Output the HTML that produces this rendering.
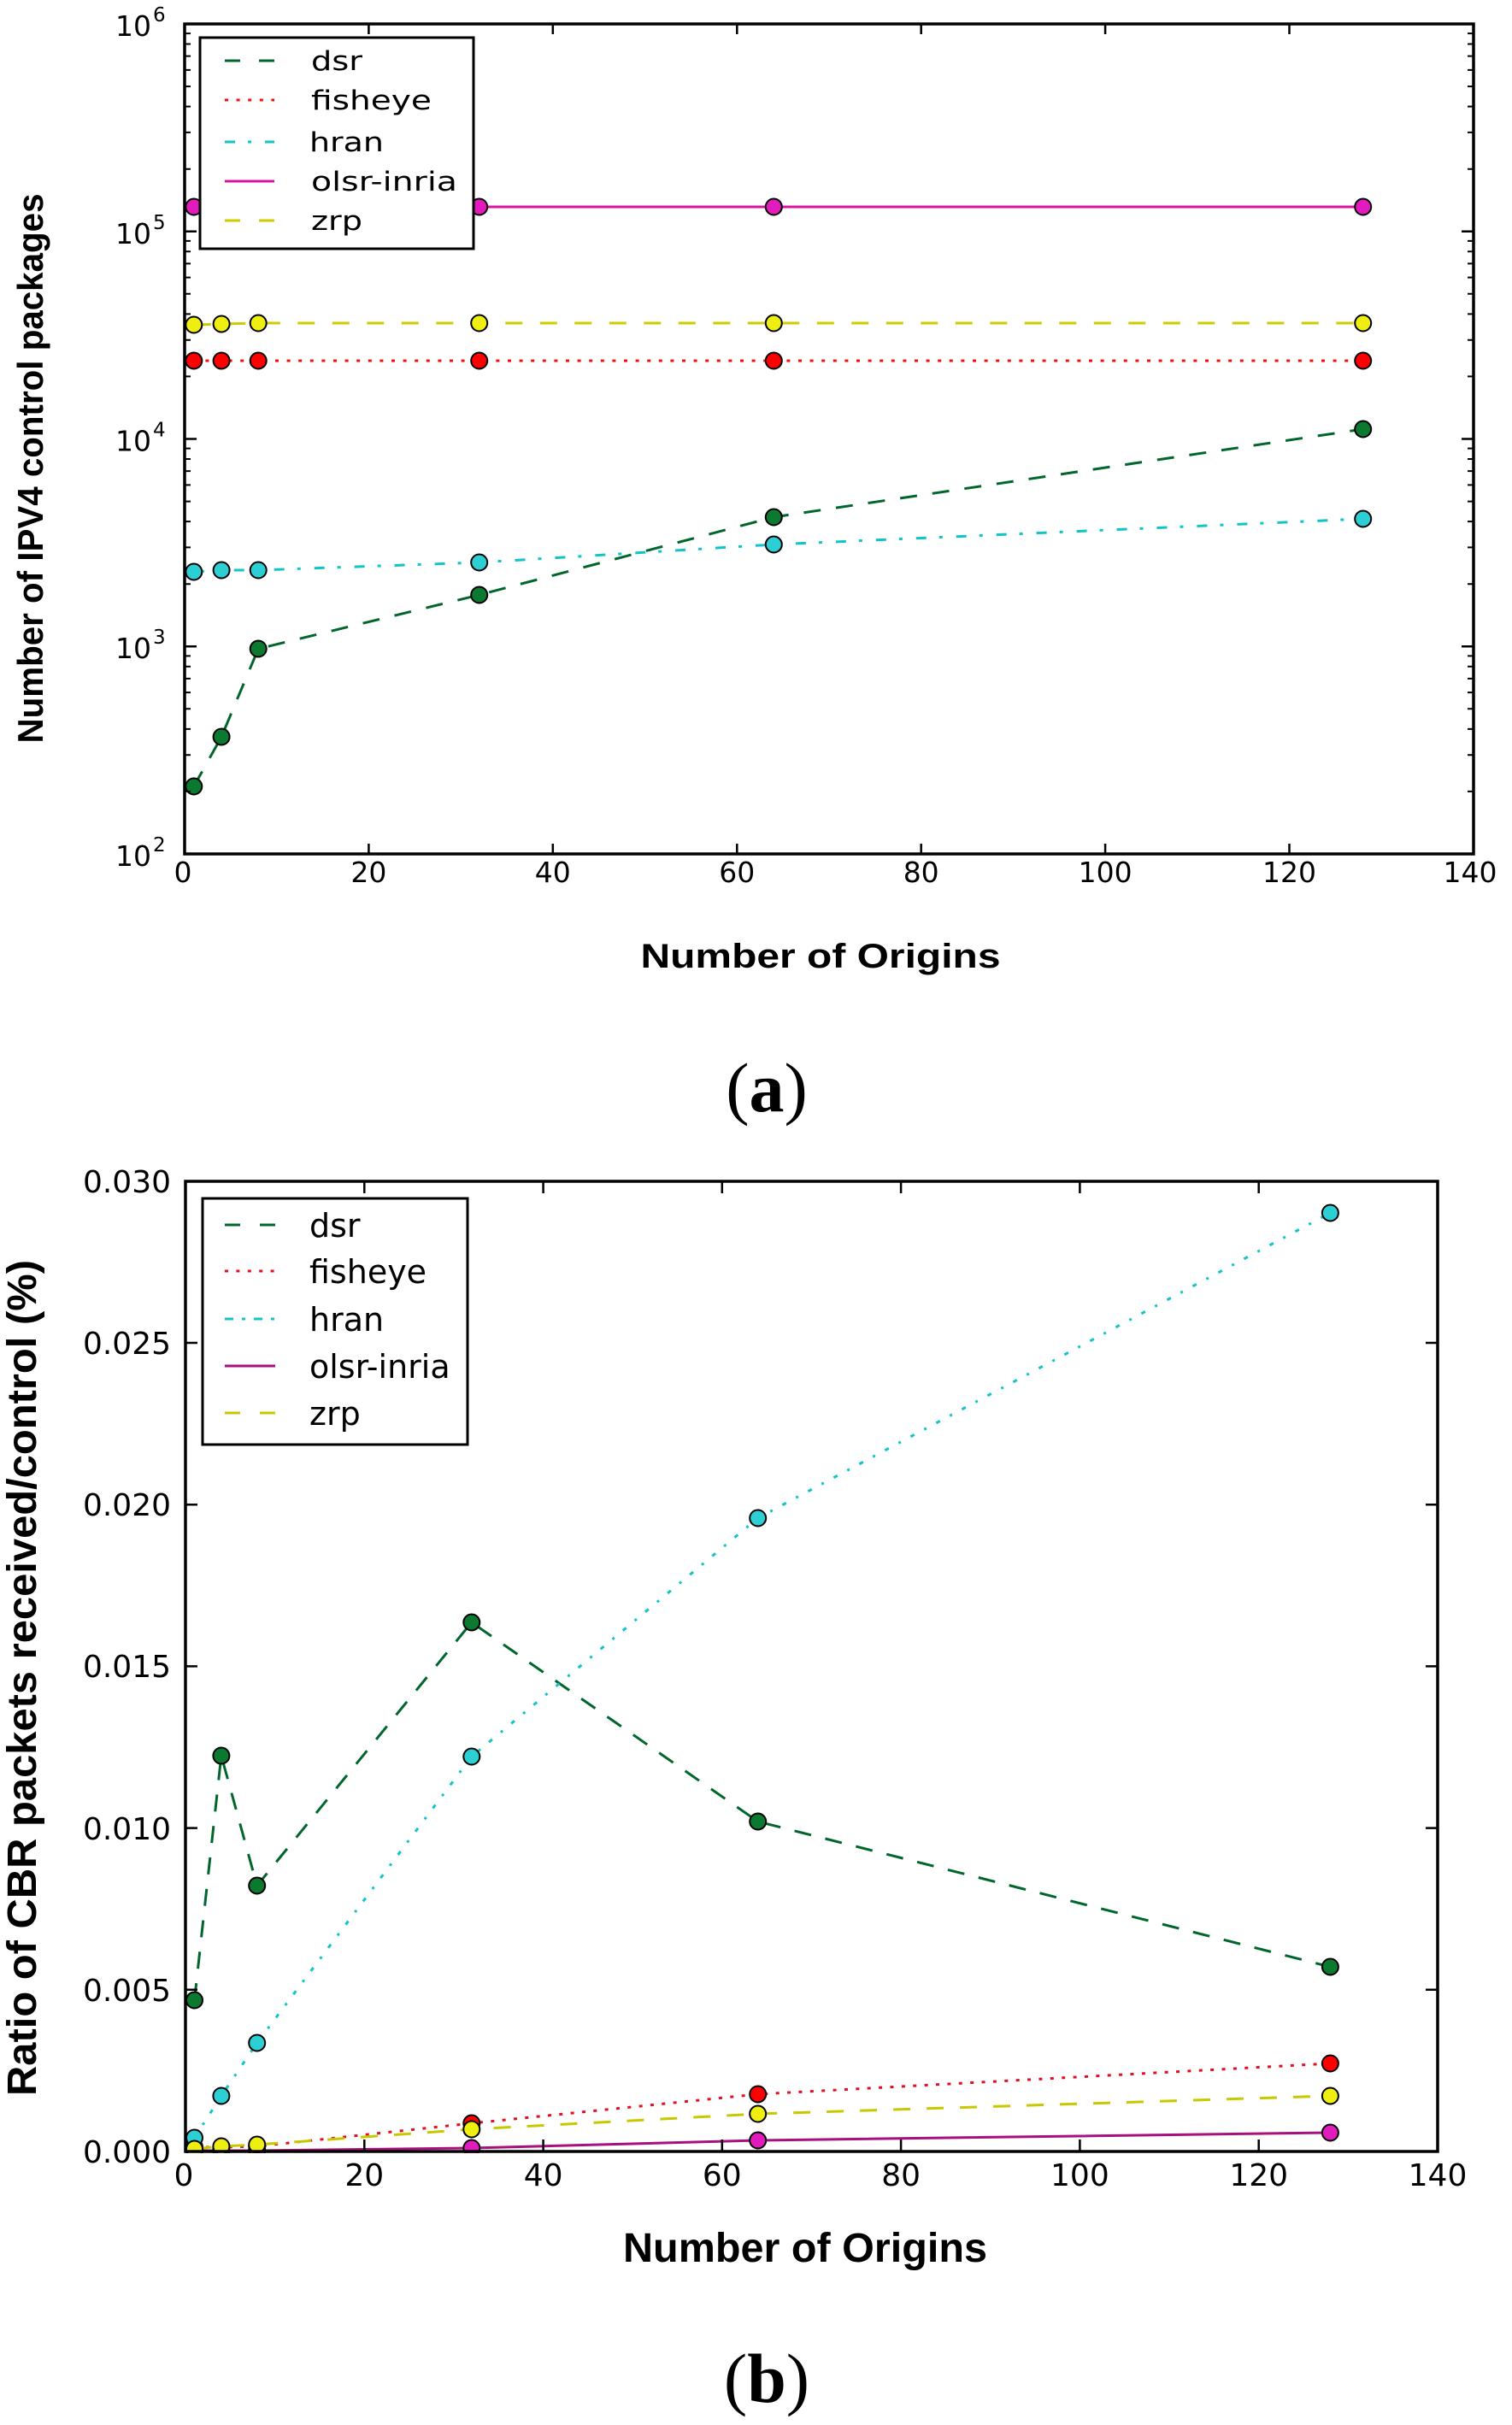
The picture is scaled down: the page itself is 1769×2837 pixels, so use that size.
<!DOCTYPE html>
<html>
<head>
<meta charset="utf-8">
<style>
  html, body { margin: 0; padding: 0; background: #ffffff; }
  svg { display: block; }
  .tick { font-family: "DejaVu Sans", "Liberation Sans", sans-serif; fill: #000; }
  .lab { font-family: "Liberation Sans", "DejaVu Sans", sans-serif; font-weight: bold; fill: #000; }
  .leg { font-family: "DejaVu Sans", "Liberation Sans", sans-serif; fill: #000; }
  .cap { font-family: "Liberation Serif", "DejaVu Serif", serif; fill: #000; }
</style>
</head>
<body>
<svg width="1769" height="2837" viewBox="0 0 1769 2837" xmlns="http://www.w3.org/2000/svg">
  <rect x="0" y="0" width="1769" height="2837" fill="#ffffff"/>
  <defs>
    <clipPath id="c1"><rect x="214" y="26" width="1512" height="975"/></clipPath>
    <clipPath id="c2"><rect x="215" y="1380" width="1469" height="1139"/></clipPath>
  </defs>

  <!-- ================= TOP PLOT (a) ================= -->
  <g clip-path="url(#c1)" fill="none" stroke-width="3">
    <!-- dsr -->
    <polyline points="226.8,920 259.1,862 302.2,759 560.7,696 905.3,605 1594.7,502" stroke="#00662c" stroke-dasharray="20 18"/>
    <g fill="#0b7a30" stroke="#000" stroke-width="2">
      <circle cx="226.8" cy="920" r="9.5"/><circle cx="259.1" cy="862" r="9.5"/><circle cx="302.2" cy="759" r="9.5"/>
      <circle cx="560.7" cy="696" r="9.5"/><circle cx="905.3" cy="605" r="9.5"/><circle cx="1594.7" cy="502" r="9.5"/>
    </g>
    <!-- fisheye -->
    <polyline points="226.8,422 259.1,422 302.2,422 560.7,422 905.3,422 1594.7,422" stroke="#f01010" stroke-dasharray="4 9.6"/>
    <g fill="#ff0000" stroke="#000" stroke-width="2">
      <circle cx="226.8" cy="422" r="9.5"/><circle cx="259.1" cy="422" r="9.5"/><circle cx="302.2" cy="422" r="9.5"/>
      <circle cx="560.7" cy="422" r="9.5"/><circle cx="905.3" cy="422" r="9.5"/><circle cx="1594.7" cy="422" r="9.5"/>
    </g>
    <!-- hran -->
    <polyline points="226.8,669 259.1,667 302.2,667 560.7,658 905.3,637 1594.7,607" stroke="#10c4c8" stroke-dasharray="12 15 4 16"/>
    <g fill="#2ccfd4" stroke="#000" stroke-width="2">
      <circle cx="226.8" cy="669" r="9.5"/><circle cx="259.1" cy="667" r="9.5"/><circle cx="302.2" cy="667" r="9.5"/>
      <circle cx="560.7" cy="658" r="9.5"/><circle cx="905.3" cy="637" r="9.5"/><circle cx="1594.7" cy="607" r="9.5"/>
    </g>
    <!-- olsr-inria -->
    <polyline points="226.8,242 259.1,242 302.2,242 560.7,242 905.3,242 1594.7,242" stroke="#d8149f"/>
    <g fill="#e21cbc" stroke="#000" stroke-width="2">
      <circle cx="226.8" cy="242" r="9.5"/><circle cx="259.1" cy="242" r="9.5"/><circle cx="302.2" cy="242" r="9.5"/>
      <circle cx="560.7" cy="242" r="9.5"/><circle cx="905.3" cy="242" r="9.5"/><circle cx="1594.7" cy="242" r="9.5"/>
    </g>
    <!-- zrp -->
    <polyline points="226.8,380 259.1,379 302.2,378 560.7,378 905.3,378 1594.7,378" stroke="#cccc00" stroke-dasharray="20 20.5"/>
    <g fill="#eeee10" stroke="#000" stroke-width="2">
      <circle cx="226.8" cy="380" r="9.5"/><circle cx="259.1" cy="379" r="9.5"/><circle cx="302.2" cy="378" r="9.5"/>
      <circle cx="560.7" cy="378" r="9.5"/><circle cx="905.3" cy="378" r="9.5"/><circle cx="1594.7" cy="378" r="9.5"/>
    </g>
  </g>

  <!-- top frame -->
  <rect x="216" y="28" width="1508" height="971" fill="none" stroke="#000" stroke-width="3.5"/>
  <!-- top ticks -->
  <path fill="none" stroke="#000" stroke-width="2.5" d="
    M431.4 999 v-12 M646.8 999 v-12 M862.3 999 v-12 M1077.7 999 v-12 M1293.1 999 v-12 M1508.5 999 v-12
    M431.4 28 v12 M646.8 28 v12 M862.3 28 v12 M1077.7 28 v12 M1293.1 28 v12 M1508.5 28 v12
    M216 756.25 h14 M216 513.5 h14 M216 270.75 h14
    M1724 756.25 h-14 M1724 513.5 h-14 M1724 270.75 h-14"/>
  <path fill="none" stroke="#000" stroke-width="2" d="
    M216 925.9 h7 M216 883.2 h7 M216 852.9 h7 M216 829.3 h7 M216 810.1 h7 M216 793.9 h7 M216 779.8 h7 M216 767.4 h7
    M216 683.2 h7 M216 640.4 h7 M216 610.1 h7 M216 586.6 h7 M216 567.4 h7 M216 551.1 h7 M216 537.0 h7 M216 524.6 h7
    M216 440.4 h7 M216 397.7 h7 M216 367.4 h7 M216 343.8 h7 M216 324.6 h7 M216 308.4 h7 M216 294.3 h7 M216 281.9 h7
    M216 197.7 h7 M216 154.9 h7 M216 124.6 h7 M216 101.1 h7 M216 81.9 h7 M216 65.6 h7 M216 51.5 h7 M216 39.1 h7
    M1724 925.9 h-7 M1724 883.2 h-7 M1724 852.9 h-7 M1724 829.3 h-7 M1724 810.1 h-7 M1724 793.9 h-7 M1724 779.8 h-7 M1724 767.4 h-7
    M1724 683.2 h-7 M1724 640.4 h-7 M1724 610.1 h-7 M1724 586.6 h-7 M1724 567.4 h-7 M1724 551.1 h-7 M1724 537.0 h-7 M1724 524.6 h-7
    M1724 440.4 h-7 M1724 397.7 h-7 M1724 367.4 h-7 M1724 343.8 h-7 M1724 324.6 h-7 M1724 308.4 h-7 M1724 294.3 h-7 M1724 281.9 h-7
    M1724 197.7 h-7 M1724 154.9 h-7 M1724 124.6 h-7 M1724 101.1 h-7 M1724 81.9 h-7 M1724 65.6 h-7 M1724 51.5 h-7 M1724 39.1 h-7"/>

  <!-- top x tick labels -->
  <g class="tick" font-size="33" text-anchor="middle">
    <text x="214" y="1032">0</text>
    <text x="431.4" y="1032">20</text>
    <text x="646.8" y="1032">40</text>
    <text x="862.3" y="1032">60</text>
    <text x="1077.7" y="1032">80</text>
    <text x="1293.1" y="1032">100</text>
    <text x="1508.5" y="1032">120</text>
    <text x="1720" y="1032">140</text>
  </g>
  <!-- top y tick labels -->
  <g class="tick">
    <text x="177" y="1013" font-size="33" text-anchor="end">10</text><text x="179" y="996" font-size="23">2</text>
    <text x="177" y="770" font-size="33" text-anchor="end">10</text><text x="179" y="753" font-size="23">3</text>
    <text x="177" y="527.5" font-size="33" text-anchor="end">10</text><text x="179" y="510.5" font-size="23">4</text>
    <text x="177" y="285" font-size="33" text-anchor="end">10</text><text x="179" y="268" font-size="23">5</text>
    <text x="177" y="42" font-size="33" text-anchor="end">10</text><text x="179" y="25" font-size="23">6</text>
  </g>

  <!-- top legend -->
  <rect x="234" y="44" width="320" height="247" fill="#ffffff" stroke="#000" stroke-width="3"/>
  <g fill="none" stroke-width="3">
    <line x1="263" y1="71" x2="321" y2="71" stroke="#00662c" stroke-dasharray="18 22"/>
    <line x1="263" y1="117" x2="321" y2="117" stroke="#f01010" stroke-dasharray="4 9.6"/>
    <line x1="263" y1="166" x2="321" y2="166" stroke="#10c4c8" stroke-dasharray="12 15 4 16"/>
    <line x1="263" y1="212" x2="321" y2="212" stroke="#d8149f"/>
    <line x1="263" y1="258" x2="321" y2="258" stroke="#cccc00" stroke-dasharray="18 22"/>
  </g>
  <g class="leg" font-size="31">
    <text x="364" y="82" textLength="60" lengthAdjust="spacingAndGlyphs">dsr</text>
    <text x="364" y="128" textLength="141" lengthAdjust="spacingAndGlyphs">fisheye</text>
    <text x="362" y="177" textLength="87" lengthAdjust="spacingAndGlyphs">hran</text>
    <text x="364" y="223" textLength="171" lengthAdjust="spacingAndGlyphs">olsr-inria</text>
    <text x="364" y="269" textLength="60" lengthAdjust="spacingAndGlyphs">zrp</text>
  </g>

  <!-- top axis labels -->
  <text class="lab" x="960" y="1132" font-size="40" text-anchor="middle" textLength="421" lengthAdjust="spacingAndGlyphs">Number of Origins</text>
  <text class="lab" transform="translate(50,548) rotate(-90)" x="0" y="0" font-size="42" text-anchor="middle" textLength="643" lengthAdjust="spacingAndGlyphs">Number of IPV4 control packages</text>

  <!-- caption (a) -->
  <text class="cap" x="897" y="1300" font-size="82" text-anchor="middle">(<tspan font-weight="bold">a</tspan>)</text>

  <!-- ================= BOTTOM PLOT (b) ================= -->
  <g clip-path="url(#c2)" fill="none" stroke-width="3">
    <!-- dsr -->
    <polyline points="227.5,2340 258.9,2054 300.7,2206 551.8,1898 886.7,2131 1556.4,2301" stroke="#00662c" stroke-dasharray="20 17"/>
    <g fill="#0b7a30" stroke="#000" stroke-width="2">
      <circle cx="227.5" cy="2340" r="9.5"/><circle cx="258.9" cy="2054" r="9.5"/><circle cx="300.7" cy="2206" r="9.5"/>
      <circle cx="551.8" cy="1898" r="9.5"/><circle cx="886.7" cy="2131" r="9.5"/><circle cx="1556.4" cy="2301" r="9.5"/>
    </g>
    <!-- fisheye -->
    <polyline points="227.5,2512 258.9,2512 300.7,2511 551.8,2484 886.7,2450 1556.4,2414" stroke="#e01020" stroke-dasharray="4 9.4"/>
    <g fill="#ff0000" stroke="#000" stroke-width="2">
      <circle cx="227.5" cy="2512" r="9.5"/><circle cx="258.9" cy="2512" r="9.5"/><circle cx="300.7" cy="2511" r="9.5"/>
      <circle cx="551.8" cy="2484" r="9.5"/><circle cx="886.7" cy="2450" r="9.5"/><circle cx="1556.4" cy="2414" r="9.5"/>
    </g>
    <!-- hran -->
    <polyline points="227.5,2501 258.9,2452 300.7,2390 551.8,2055 886.7,1776 1556.4,1419" stroke="#10c4c8" stroke-dasharray="5 13 3 13"/>
    <g fill="#2ccfd4" stroke="#000" stroke-width="2">
      <circle cx="227.5" cy="2501" r="9.5"/><circle cx="258.9" cy="2452" r="9.5"/><circle cx="300.7" cy="2390" r="9.5"/>
      <circle cx="551.8" cy="2055" r="9.5"/><circle cx="886.7" cy="1776" r="9.5"/><circle cx="1556.4" cy="1419" r="9.5"/>
    </g>
    <!-- olsr-inria -->
    <polyline points="227.5,2516 258.9,2516 300.7,2516 551.8,2513 886.7,2504 1556.4,2495" stroke="#a81080"/>
    <g fill="#e21cbc" stroke="#000" stroke-width="2">
      <circle cx="227.5" cy="2516" r="9.5"/><circle cx="258.9" cy="2516" r="9.5"/><circle cx="300.7" cy="2516" r="9.5"/>
      <circle cx="551.8" cy="2513" r="9.5"/><circle cx="886.7" cy="2504" r="9.5"/><circle cx="1556.4" cy="2495" r="9.5"/>
    </g>
    <!-- zrp -->
    <polyline points="227.5,2514 258.9,2511 300.7,2509 551.8,2491 886.7,2473 1556.4,2452" stroke="#c8c800" stroke-dasharray="20 19"/>
    <g fill="#eeee10" stroke="#000" stroke-width="2">
      <circle cx="227.5" cy="2514" r="9.5"/><circle cx="258.9" cy="2511" r="9.5"/><circle cx="300.7" cy="2509" r="9.5"/>
      <circle cx="551.8" cy="2491" r="9.5"/><circle cx="886.7" cy="2473" r="9.5"/><circle cx="1556.4" cy="2452" r="9.5"/>
    </g>
  </g>

  <!-- bottom frame -->
  <rect x="217" y="1382" width="1465" height="1135" fill="none" stroke="#000" stroke-width="3.5"/>
  <path fill="none" stroke="#000" stroke-width="2.5" d="
    M426.3 2517 v-14 M635.6 2517 v-14 M844.8 2517 v-14 M1054.1 2517 v-14 M1263.4 2517 v-14 M1472.7 2517 v-14
    M426.3 1382 v14 M635.6 1382 v14 M844.8 1382 v14 M1054.1 1382 v14 M1263.4 1382 v14 M1472.7 1382 v14
    M217 2327.8 h14 M217 2138.6 h14 M217 1949.4 h14 M217 1760.2 h14 M217 1571 h14
    M1682 2327.8 h-14 M1682 2138.6 h-14 M1682 1949.4 h-14 M1682 1760.2 h-14 M1682 1571 h-14"/>

  <!-- bottom x tick labels -->
  <g class="tick" font-size="36" text-anchor="middle">
    <text x="215" y="2557">0</text>
    <text x="426.3" y="2557">20</text>
    <text x="635.6" y="2557">40</text>
    <text x="844.8" y="2557">60</text>
    <text x="1054.1" y="2557">80</text>
    <text x="1263.4" y="2557">100</text>
    <text x="1472.7" y="2557">120</text>
    <text x="1682" y="2557">140</text>
  </g>
  <!-- bottom y tick labels -->
  <g class="tick" font-size="36" text-anchor="end">
    <text x="200" y="2530">0.000</text>
    <text x="200" y="2341">0.005</text>
    <text x="200" y="2152">0.010</text>
    <text x="200" y="1962">0.015</text>
    <text x="200" y="1773">0.020</text>
    <text x="200" y="1584">0.025</text>
    <text x="200" y="1395">0.030</text>
  </g>

  <!-- bottom legend -->
  <rect x="237" y="1402" width="310" height="288" fill="#ffffff" stroke="#000" stroke-width="3"/>
  <g fill="none" stroke-width="3">
    <line x1="263" y1="1433" x2="322" y2="1433" stroke="#00662c" stroke-dasharray="18 23"/>
    <line x1="263" y1="1487" x2="322" y2="1487" stroke="#e01020" stroke-dasharray="4 9.4"/>
    <line x1="263" y1="1543" x2="322" y2="1543" stroke="#10c4c8" stroke-dasharray="10 10 4 10"/>
    <line x1="263" y1="1598" x2="322" y2="1598" stroke="#a81080"/>
    <line x1="263" y1="1653" x2="322" y2="1653" stroke="#c8c800" stroke-dasharray="18 23"/>
  </g>
  <g class="leg" font-size="38">
    <text x="362" y="1447">dsr</text>
    <text x="362" y="1501">fisheye</text>
    <text x="362" y="1557">hran</text>
    <text x="362" y="1612">olsr-inria</text>
    <text x="362" y="1667">zrp</text>
  </g>

  <!-- bottom axis labels -->
  <text class="lab" x="942" y="2646" font-size="48" text-anchor="middle" textLength="426" lengthAdjust="spacingAndGlyphs">Number of Origins</text>
  <text class="lab" transform="translate(42,1963) rotate(-90)" x="0" y="0" font-size="48" text-anchor="middle" textLength="978" lengthAdjust="spacingAndGlyphs">Ratio of CBR packets received/control (%)</text>

  <!-- caption (b) -->
  <text class="cap" x="897" y="2810" font-size="82" text-anchor="middle">(<tspan font-weight="bold">b</tspan>)</text>
</svg>
</body>
</html>
